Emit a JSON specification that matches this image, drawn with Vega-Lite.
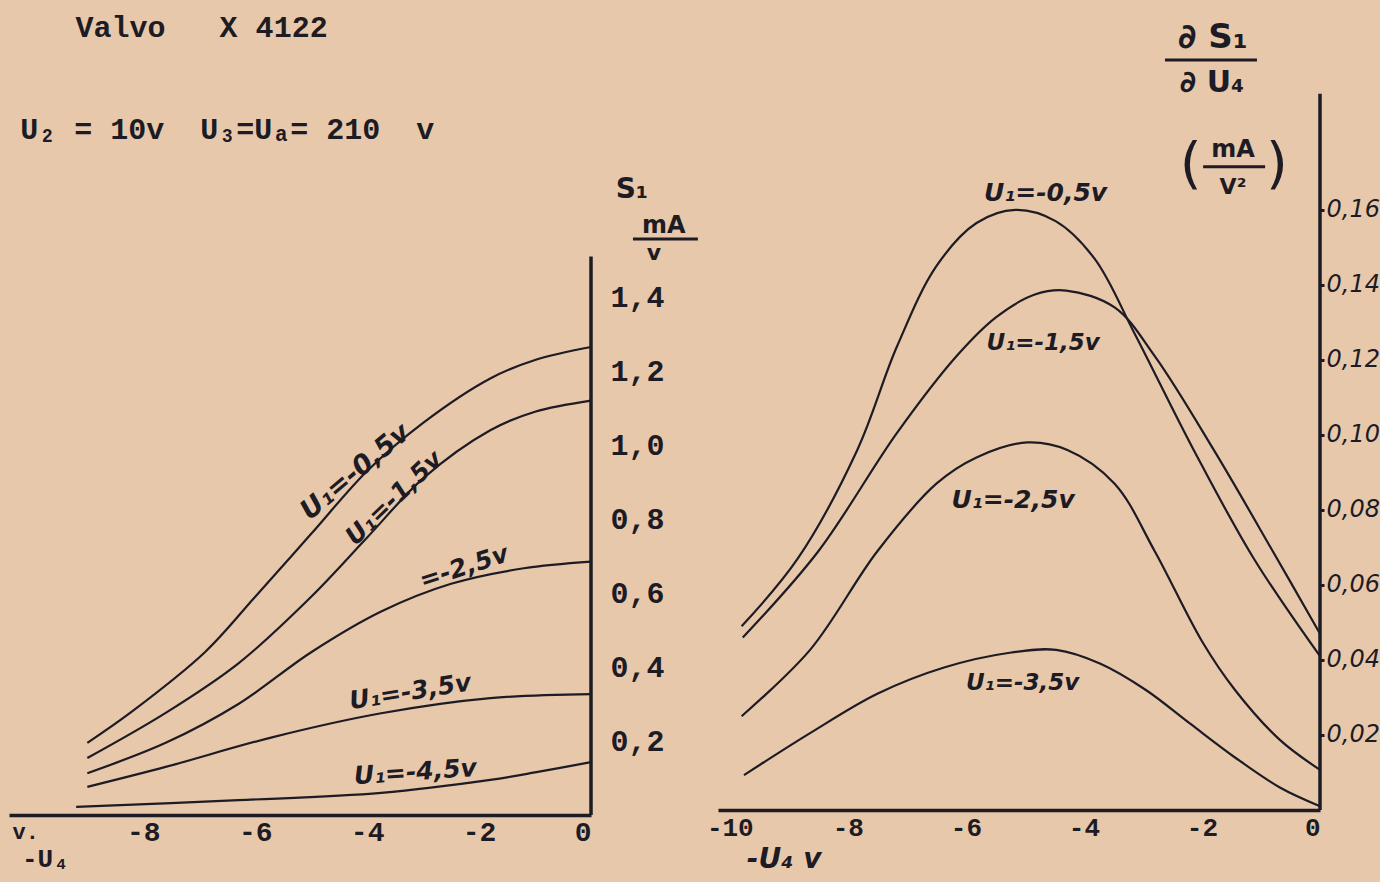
{
  "$schema": "https://vega.github.io/schema/vega-lite/v6.json",
  "background": "#e8c8ab",
  "padding": {"left": 9, "top": 10, "right": 0, "bottom": 8},
  "spacing": 127,
  "bounds": "flush",
  "config": {"view": {"stroke": null}, "text": {"color": "#1d1b24"}},
  "datasets": {
    "left": [
      {"u4": -9.0, "s": 0.195, "u1": "-0.5"}, {"u4": -8.2, "s": 0.28, "u1": "-0.5"}, {"u4": -6.9, "s": 0.44, "u1": "-0.5"}, {"u4": -6.0, "s": 0.59, "u1": "-0.5"}, {"u4": -5.0, "s": 0.76, "u1": "-0.5"}, {"u4": -4.0, "s": 0.93, "u1": "-0.5"}, {"u4": -3.0, "s": 1.06, "u1": "-0.5"}, {"u4": -1.8, "s": 1.18, "u1": "-0.5"}, {"u4": -1.0, "s": 1.23, "u1": "-0.5"}, {"u4": 0.0, "s": 1.265, "u1": "-0.5"},
      {"u4": -9.0, "s": 0.154, "u1": "-1.5"}, {"u4": -7.6, "s": 0.276, "u1": "-1.5"}, {"u4": -6.3, "s": 0.41, "u1": "-1.5"}, {"u4": -5.0, "s": 0.59, "u1": "-1.5"}, {"u4": -4.0, "s": 0.75, "u1": "-1.5"}, {"u4": -3.0, "s": 0.91, "u1": "-1.5"}, {"u4": -1.8, "s": 1.04, "u1": "-1.5"}, {"u4": -1.0, "s": 1.09, "u1": "-1.5"}, {"u4": 0.0, "s": 1.12, "u1": "-1.5"},
      {"u4": -9.0, "s": 0.113, "u1": "-2.5"}, {"u4": -7.6, "s": 0.195, "u1": "-2.5"}, {"u4": -6.3, "s": 0.30, "u1": "-2.5"}, {"u4": -5.0, "s": 0.44, "u1": "-2.5"}, {"u4": -3.75, "s": 0.55, "u1": "-2.5"}, {"u4": -2.5, "s": 0.625, "u1": "-2.5"}, {"u4": -1.2, "s": 0.667, "u1": "-2.5"}, {"u4": 0.0, "s": 0.685, "u1": "-2.5"},
      {"u4": -9.0, "s": 0.076, "u1": "-3.5"}, {"u4": -7.6, "s": 0.13, "u1": "-3.5"}, {"u4": -5.7, "s": 0.21, "u1": "-3.5"}, {"u4": -3.75, "s": 0.275, "u1": "-3.5"}, {"u4": -1.8, "s": 0.316, "u1": "-3.5"}, {"u4": 0.0, "s": 0.327, "u1": "-3.5"},
      {"u4": -9.2, "s": 0.022, "u1": "-4.5"}, {"u4": -6.3, "s": 0.04, "u1": "-4.5"}, {"u4": -3.75, "s": 0.06, "u1": "-4.5"}, {"u4": -1.8, "s": 0.095, "u1": "-4.5"}, {"u4": -1.0, "s": 0.115, "u1": "-4.5"}, {"u4": 0.0, "s": 0.143, "u1": "-4.5"}
    ],
    "right": [
      {"u4": -9.8, "ds": 0.049, "u1": "-0.5"}, {"u4": -8.85, "ds": 0.067, "u1": "-0.5"}, {"u4": -7.84, "ds": 0.096, "u1": "-0.5"}, {"u4": -7.17, "ds": 0.1235, "u1": "-0.5"}, {"u4": -6.5, "ds": 0.145, "u1": "-0.5"}, {"u4": -5.82, "ds": 0.1565, "u1": "-0.5"}, {"u4": -5.16, "ds": 0.160, "u1": "-0.5"}, {"u4": -4.48, "ds": 0.157, "u1": "-0.5"}, {"u4": -3.82, "ds": 0.147, "u1": "-0.5"}, {"u4": -3.14, "ds": 0.127, "u1": "-0.5"}, {"u4": -2.14, "ds": 0.096, "u1": "-0.5"}, {"u4": -1.12, "ds": 0.067, "u1": "-0.5"}, {"u4": 0.0, "ds": 0.041, "u1": "-0.5"},
      {"u4": -9.78, "ds": 0.046, "u1": "-1.5"}, {"u4": -8.5, "ds": 0.069, "u1": "-1.5"}, {"u4": -7.17, "ds": 0.1005, "u1": "-1.5"}, {"u4": -6.16, "ds": 0.121, "u1": "-1.5"}, {"u4": -5.48, "ds": 0.1315, "u1": "-1.5"}, {"u4": -4.82, "ds": 0.1375, "u1": "-1.5"}, {"u4": -4.3, "ds": 0.1385, "u1": "-1.5"}, {"u4": -3.48, "ds": 0.134, "u1": "-1.5"}, {"u4": -2.8, "ds": 0.121, "u1": "-1.5"}, {"u4": -1.8, "ds": 0.096, "u1": "-1.5"}, {"u4": -0.8, "ds": 0.069, "u1": "-1.5"}, {"u4": 0.0, "ds": 0.047, "u1": "-1.5"},
      {"u4": -9.8, "ds": 0.025, "u1": "-2.5"}, {"u4": -8.64, "ds": 0.0427, "u1": "-2.5"}, {"u4": -7.5, "ds": 0.069, "u1": "-2.5"}, {"u4": -6.5, "ds": 0.087, "u1": "-2.5"}, {"u4": -5.82, "ds": 0.094, "u1": "-2.5"}, {"u4": -4.96, "ds": 0.098, "u1": "-2.5"}, {"u4": -4.28, "ds": 0.096, "u1": "-2.5"}, {"u4": -3.48, "ds": 0.087, "u1": "-2.5"}, {"u4": -2.8, "ds": 0.069, "u1": "-2.5"}, {"u4": -2.0, "ds": 0.045, "u1": "-2.5"}, {"u4": -1.44, "ds": 0.032, "u1": "-2.5"}, {"u4": -0.68, "ds": 0.0187, "u1": "-2.5"}, {"u4": 0.0, "ds": 0.0107, "u1": "-2.5"},
      {"u4": -9.76, "ds": 0.0093, "u1": "-3.5"}, {"u4": -8.64, "ds": 0.0205, "u1": "-3.5"}, {"u4": -7.5, "ds": 0.031, "u1": "-3.5"}, {"u4": -6.37, "ds": 0.038, "u1": "-3.5"}, {"u4": -5.23, "ds": 0.042, "u1": "-3.5"}, {"u4": -4.47, "ds": 0.0427, "u1": "-3.5"}, {"u4": -3.72, "ds": 0.039, "u1": "-3.5"}, {"u4": -2.95, "ds": 0.032, "u1": "-3.5"}, {"u4": -2.2, "ds": 0.023, "u1": "-3.5"}, {"u4": -1.44, "ds": 0.014, "u1": "-3.5"}, {"u4": -0.68, "ds": 0.006, "u1": "-3.5"}, {"u4": 0.0, "ds": 0.001, "u1": "-3.5"}
    ]
  },
  "hconcat": [
    {
      "width": 582,
      "height": 805,
      "layer": [
        {
          "data": {"name": "left"},
          "mark": {"type": "line", "interpolate": "catmull-rom", "color": "#1d1b24", "strokeWidth": 2.2},
          "encoding": {
            "x": {"field": "u4", "type": "quantitative", "scale": {"domain": [-10.4, 0], "nice": false, "zero": false},
              "axis": {"values": [-8, -6, -4, -2, 0], "labelExpr": "datum.value == 0 ? '0' : '-' + abs(datum.value)", "title": null, "grid": false, "tickSize": 0, "domainWidth": 3.5, "domainColor": "#1d1b24", "labelFont": "Liberation Mono", "labelFontWeight": "bold", "labelFontSize": 28, "labelColor": "#1d1b24", "labelPadding": 3}},
            "y": {"field": "s", "type": "quantitative", "scale": {"domain": [0, 2.176], "nice": false},
              "axis": {"orient": "right", "values": [0.2, 0.4, 0.6, 0.8, 1.0, 1.2, 1.4], "labelExpr": "replace(format(datum.value, '.1f'), '.', ',')", "domain": false, "ticks": false, "grid": false, "title": null, "labelFont": "Liberation Mono", "labelFontWeight": "bold", "labelFontSize": 30, "labelColor": "#1d1b24", "labelPadding": 19}},
            "detail": {"field": "u1"}
          }
        },
        {"data": {"values": [{}]}, "mark": {"type": "rule", "color": "#1d1b24", "strokeWidth": 3.5}, "encoding": {"x": {"datum": 0}, "y": {"datum": 0}, "y2": {"datum": 1.51}}},
        {"data": {"values": [{}]}, "mark": {"type": "text", "text": "Valvo\u00a0\u00a0\u00a0X 4122", "align": "left", "baseline": "middle", "font": "Liberation Mono", "fontWeight": "bold", "fontSize": 30}, "encoding": {"x": {"datum": -9.21}, "y": {"datum": 2.127}}},
        {"data": {"values": [{}]}, "mark": {"type": "text", "text": "U₂ = 10v\u00a0\u00a0U₃=Uₐ= 210\u00a0\u00a0v", "align": "left", "baseline": "middle", "font": "Liberation Mono", "fontWeight": "bold", "fontSize": 30}, "encoding": {"x": {"datum": -10.2}, "y": {"datum": 1.851}}},
        {"data": {"values": [{}]}, "mark": {"type": "text", "text": "S₁", "align": "center", "baseline": "middle", "font": "DejaVu Sans", "fontWeight": "bold", "fontSize": 28}, "encoding": {"x": {"datum": 0.73}, "y": {"datum": 1.689}}},
        {"data": {"values": [{}]}, "mark": {"type": "text", "text": "mA", "align": "center", "baseline": "middle", "font": "DejaVu Sans", "fontWeight": "bold", "fontSize": 24}, "encoding": {"x": {"datum": 1.3}, "y": {"datum": 1.592}}},
        {"data": {"values": [{}]}, "mark": {"type": "rule", "color": "#1d1b24", "strokeWidth": 3}, "encoding": {"x": {"datum": 0.75}, "x2": {"datum": 1.91}, "y": {"datum": 1.557}}},
        {"data": {"values": [{}]}, "mark": {"type": "text", "text": "v", "align": "center", "baseline": "middle", "font": "DejaVu Sans", "fontWeight": "bold", "fontSize": 22}, "encoding": {"x": {"datum": 1.125}, "y": {"datum": 1.519}}},
        {"data": {"values": [{}]}, "mark": {"type": "text", "text": "v.", "align": "center", "baseline": "middle", "font": "Liberation Mono", "fontWeight": "bold", "fontSize": 22}, "encoding": {"x": {"datum": -10.1}, "y": {"datum": -0.046}}},
        {"data": {"values": [{}]}, "mark": {"type": "text", "text": "-U₄", "align": "center", "baseline": "middle", "font": "Liberation Mono", "fontWeight": "bold", "fontSize": 26}, "encoding": {"x": {"datum": -9.75}, "y": {"datum": -0.12}}},
        {"data": {"values": [{}]}, "mark": {"type": "text", "text": "U₁=-0,5v", "angle": 320, "align": "center", "baseline": "middle", "font": "DejaVu Sans", "fontWeight": "bold", "fontStyle": "italic", "fontSize": 27}, "encoding": {"x": {"datum": -4.21}, "y": {"datum": 0.927}}},
        {"data": {"values": [{}]}, "mark": {"type": "text", "text": "U₁=-1,5v", "angle": 316, "align": "center", "baseline": "middle", "font": "DejaVu Sans", "fontWeight": "bold", "fontStyle": "italic", "fontSize": 25}, "encoding": {"x": {"datum": -3.52}, "y": {"datum": 0.857}}},
        {"data": {"values": [{}]}, "mark": {"type": "text", "text": "=-2,5v", "angle": 342, "align": "center", "baseline": "middle", "font": "DejaVu Sans", "fontWeight": "bold", "fontStyle": "italic", "fontSize": 25}, "encoding": {"x": {"datum": -2.27}, "y": {"datum": 0.67}}},
        {"data": {"values": [{}]}, "mark": {"type": "text", "text": "U₁=-3,5v", "angle": 351, "align": "center", "baseline": "middle", "font": "DejaVu Sans", "fontWeight": "bold", "fontStyle": "italic", "fontSize": 25}, "encoding": {"x": {"datum": -3.23}, "y": {"datum": 0.333}}},
        {"data": {"values": [{}]}, "mark": {"type": "text", "text": "U₁=-4,5v", "angle": 356, "align": "center", "baseline": "middle", "font": "DejaVu Sans", "fontWeight": "bold", "fontStyle": "italic", "fontSize": 25}, "encoding": {"x": {"datum": -3.14}, "y": {"datum": 0.116}}}
      ]
    },
    {
      "width": 602,
      "height": 800,
      "layer": [
        {
          "data": {"name": "right"},
          "mark": {"type": "line", "interpolate": "catmull-rom", "color": "#1d1b24", "strokeWidth": 2.2},
          "encoding": {
            "x": {"field": "u4", "type": "quantitative", "scale": {"domain": [-10.2, 0], "nice": false, "zero": false},
              "axis": {"values": [-10, -8, -6, -4, -2, 0], "labelExpr": "datum.value == 0 ? '0' : '-' + abs(datum.value)", "title": null, "grid": false, "tickSize": 0, "domainWidth": 3.5, "domainColor": "#1d1b24", "labelFont": "Liberation Mono", "labelFontWeight": "bold", "labelFontSize": 26, "labelColor": "#1d1b24", "labelPadding": 4}},
            "y": {"field": "ds", "type": "quantitative", "scale": {"domain": [0, 0.2133], "nice": false},
              "axis": {"orient": "right", "values": [0.02, 0.04, 0.06, 0.08, 0.1, 0.12, 0.14, 0.16], "labelExpr": "replace(format(datum.value, '.2f'), '.', ',')", "domain": false, "ticks": true, "tickSize": 4, "tickWidth": 3, "tickColor": "#1d1b24", "grid": false, "title": null, "labelFont": "DejaVu Sans", "labelFontStyle": "italic", "labelFontSize": 24, "labelColor": "#1d1b24", "labelPadding": 2}},
            "detail": {"field": "u1"}
          }
        },
        {"data": {"values": [{}]}, "mark": {"type": "rule", "color": "#1d1b24", "strokeWidth": 3.5}, "encoding": {"x": {"datum": 0}, "y": {"datum": 0}, "y2": {"datum": 0.191}}},
        {"data": {"values": [{}]}, "mark": {"type": "text", "text": "∂ S₁", "align": "center", "baseline": "middle", "font": "DejaVu Sans", "fontWeight": "bold", "fontSize": 34}, "encoding": {"x": {"datum": -1.817}, "y": {"datum": 0.2059}}},
        {"data": {"values": [{}]}, "mark": {"type": "rule", "color": "#1d1b24", "strokeWidth": 3}, "encoding": {"x": {"datum": -2.627}, "x2": {"datum": -1.068}, "y": {"datum": 0.2}}},
        {"data": {"values": [{}]}, "mark": {"type": "text", "text": "∂ U₄", "align": "center", "baseline": "middle", "font": "DejaVu Sans", "fontWeight": "bold", "fontSize": 30}, "encoding": {"x": {"datum": -1.83}, "y": {"datum": 0.1939}}},
        {"data": {"values": [{}]}, "mark": {"type": "text", "text": "(", "align": "center", "baseline": "middle", "font": "DejaVu Sans", "fontSize": 56}, "encoding": {"x": {"datum": -2.19}, "y": {"datum": 0.172}}},
        {"data": {"values": [{}]}, "mark": {"type": "text", "text": "mA", "align": "center", "baseline": "middle", "font": "DejaVu Sans", "fontWeight": "bold", "fontSize": 24}, "encoding": {"x": {"datum": -1.475}, "y": {"datum": 0.176}}},
        {"data": {"values": [{}]}, "mark": {"type": "rule", "color": "#1d1b24", "strokeWidth": 3}, "encoding": {"x": {"datum": -1.98}, "x2": {"datum": -0.93}, "y": {"datum": 0.1715}}},
        {"data": {"values": [{}]}, "mark": {"type": "text", "text": "V²", "align": "center", "baseline": "middle", "font": "DejaVu Sans", "fontWeight": "bold", "fontSize": 22}, "encoding": {"x": {"datum": -1.475}, "y": {"datum": 0.1661}}},
        {"data": {"values": [{}]}, "mark": {"type": "text", "text": ")", "align": "center", "baseline": "middle", "font": "DejaVu Sans", "fontSize": 56}, "encoding": {"x": {"datum": -0.73}, "y": {"datum": 0.172}}},
        {"data": {"values": [{}]}, "mark": {"type": "text", "text": "-U₄ v", "align": "center", "baseline": "middle", "font": "DejaVu Sans", "fontWeight": "bold", "fontStyle": "italic", "fontSize": 28}, "encoding": {"x": {"datum": -9.08}, "y": {"datum": -0.0133}}},
        {"data": {"values": [{}]}, "mark": {"type": "text", "text": "U₁=-0,5v", "align": "center", "baseline": "middle", "font": "DejaVu Sans", "fontWeight": "bold", "fontStyle": "italic", "fontSize": 25}, "encoding": {"x": {"datum": -4.65}, "y": {"datum": 0.1645}}},
        {"data": {"values": [{}]}, "mark": {"type": "text", "text": "U₁=-1,5v", "align": "center", "baseline": "middle", "font": "DejaVu Sans", "fontWeight": "bold", "fontStyle": "italic", "fontSize": 23}, "encoding": {"x": {"datum": -4.69}, "y": {"datum": 0.1245}}},
        {"data": {"values": [{}]}, "mark": {"type": "text", "text": "U₁=-2,5v", "align": "center", "baseline": "middle", "font": "DejaVu Sans", "fontWeight": "bold", "fontStyle": "italic", "fontSize": 25}, "encoding": {"x": {"datum": -5.2}, "y": {"datum": 0.0827}}},
        {"data": {"values": [{}]}, "mark": {"type": "text", "text": "U₁=-3,5v", "align": "center", "baseline": "middle", "font": "DejaVu Sans", "fontWeight": "bold", "fontStyle": "italic", "fontSize": 23}, "encoding": {"x": {"datum": -5.04}, "y": {"datum": 0.0339}}}
      ]
    }
  ]
}
